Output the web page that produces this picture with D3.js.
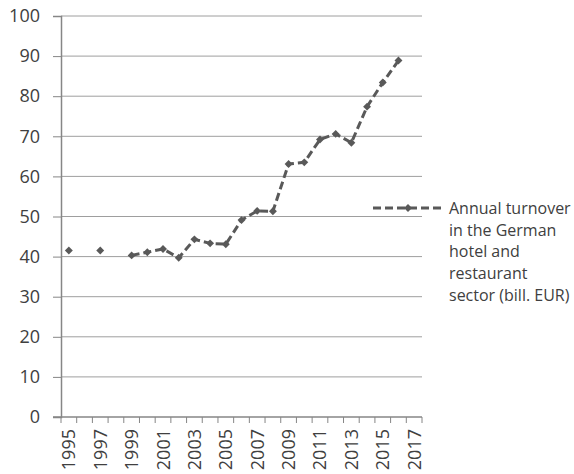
<!DOCTYPE html>
<html>
<head>
<meta charset="utf-8">
<script src="https://cdn.jsdelivr.net/npm/d3@7"></script>
<style>
  body { margin: 0; background: #fff; }
  svg { display: block; font-family: "Open Sans", sans-serif; }
</style>
</head>
<body>
<svg id="chart" width="574" height="474"></svg>
<script>
// years on the category axis
const years = d3.range(1995, 2018);
// turnover, bill. EUR (null = no value)
const turnover = [41.5, null, 41.5, null, 40.3, 41.1, 41.9, 39.7, 44.3, 43.3, 43.1,
  49.1, 51.4, 51.3, 63.1, 63.5, 69.2, 70.6, 68.4, 77.4, 83.4, 88.9, null];
const yTicks = [0, 10, 20, 30, 40, 50, 60, 70, 80, 90, 100];
const xLabels = years.filter(y => y % 2 === 1);
const legendLines = ['Annual turnover', 'in the German', 'hotel and', 'restaurant', 'sector (bill. EUR)'];

const svg = d3.select('#chart');
const plotL = 61, plotR = 422, plotT = 16, plotB = 417;

const x = d3.scaleBand().domain(years).range([plotL, plotR]);
const y = d3.scaleLinear().domain([0, 100]).range([plotB, plotT]);

//网格线
svg.append('g')
  .selectAll('line')
  .data(yTicks.filter(d => d > 0))
  .join('line')
  .attr('x1', plotL).attr('x2', plotR)
  .attr('y1', d => y(d)).attr('y2', d => y(d))
  .attr('stroke', '#9e9e9e').attr('stroke-width', 1);

//y轴
const yAxis = svg.append('g')
  .attr('transform', `translate(${plotL},0)`)
  .call(d3.axisLeft(y).tickValues(yTicks).tickSize(8).tickPadding(13));
yAxis.select('.domain').attr('stroke', '#868686').attr('stroke-width', 1.5);
yAxis.selectAll('.tick line').attr('stroke', '#868686');
yAxis.selectAll('text').attr('fill', '#404040').attr('font-size', 18).attr('font-family', '"Open Sans", sans-serif');

//x轴
const xAxis = svg.append('g')
  .attr('transform', `translate(0,${plotB})`);
xAxis.append('line')
  .attr('x1', plotL - 8).attr('x2', plotR)
  .attr('stroke', '#868686').attr('stroke-width', 1.5);
xAxis.selectAll('.tk')
  .data(years.concat([2018]))
  .join('line')
  .attr('class', 'tk')
  .attr('x1', d => d === 2018 ? plotR : x(d)).attr('x2', d => d === 2018 ? plotR : x(d))
  .attr('y1', 0).attr('y2', 6)
  .attr('stroke', '#868686');
xAxis.selectAll('text')
  .data(xLabels)
  .join('text')
  .attr('transform', d => `translate(${x(d) + x.bandwidth() / 2 + 6.5},12) rotate(-90)`)
  .attr('text-anchor', 'end')
  .attr('fill', '#404040')
  .attr('font-size', 18)
  .text(d => d);

//数据线
const pts = years.map((yr, i) => ({yr: yr, v: turnover[i]}));
const line = d3.line()
  .defined(d => d.v !== null)
  .x(d => x(d.yr) + x.bandwidth() / 2)
  .y(d => y(d.v));
svg.append('path')
  .attr('d', line(pts))
  .attr('fill', 'none')
  .attr('stroke', '#595959')
  .attr('stroke-width', 3)
  .attr('stroke-dasharray', '8,4');

const diamond = d3.symbol().type(d3.symbolDiamond2).size(40);
svg.append('g')
  .selectAll('path')
  .data(pts.filter(d => d.v !== null))
  .join('path')
  .attr('d', diamond)
  .attr('transform', d => `translate(${x(d.yr) + x.bandwidth() / 2},${y(d.v)})`)
  .attr('fill', '#595959');

//图例
const lg = svg.append('g');
lg.append('line')
  .attr('x1', 373).attr('x2', 441).attr('y1', 208).attr('y2', 208)
  .attr('stroke', '#595959').attr('stroke-width', 3).attr('stroke-dasharray', '8,4');
lg.append('path')
  .attr('d', diamond)
  .attr('transform', 'translate(408,208)')
  .attr('fill', '#595959');
lg.selectAll('text')
  .data(legendLines)
  .join('text')
  .attr('x', 449)
  .attr('y', (d, i) => 214 + i * 21.7)
  .attr('fill', '#404040')
  .attr('font-size', 16)
  .text(d => d);
</script>
</body>
</html>
